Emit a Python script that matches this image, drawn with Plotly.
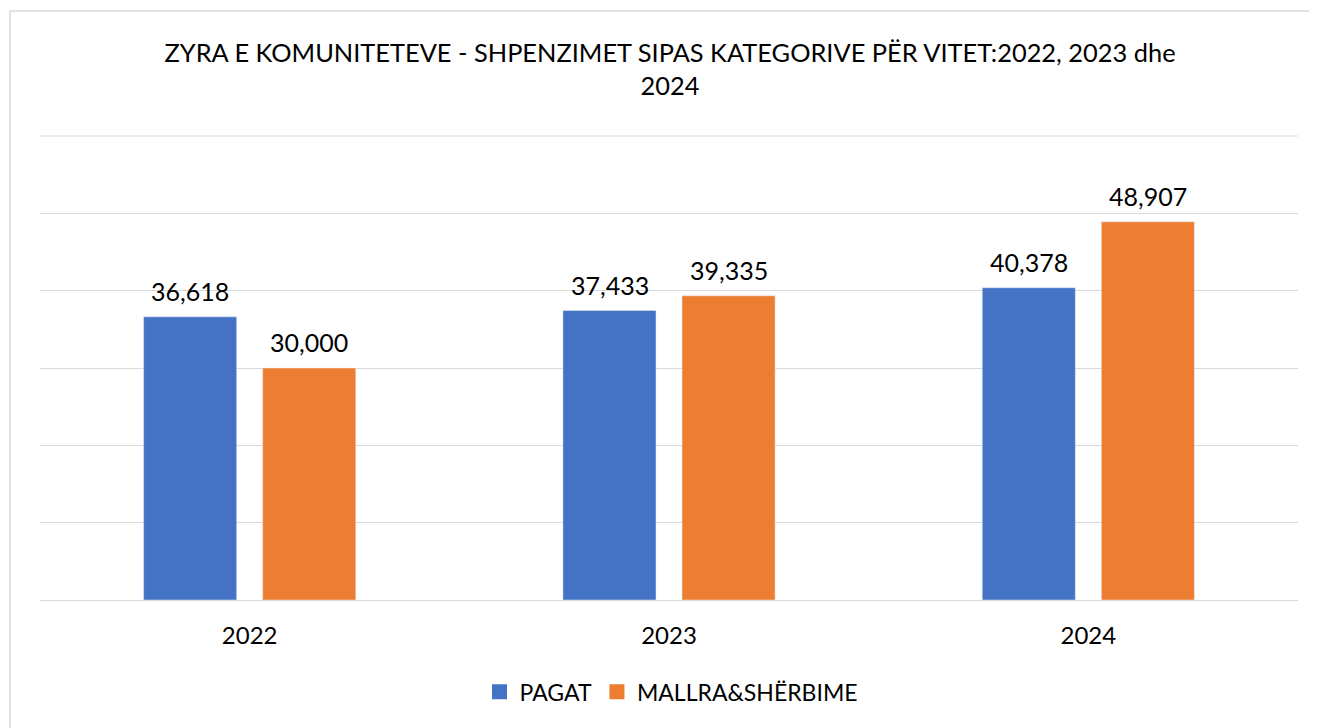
import plotly.graph_objects as go

# Të dhënat
vitet = ["2022", "2023", "2024"]
pagat = [36618, 37433, 40378]
mallra_sherbime = [30000, 39335, 48907]

FONT = "Lato"
BLU = "#4472C4"
PORTOKALLI = "#ED7D31"

seri = [("PAGAT", pagat, BLU, -59.5),
        ("MALLRA&SHËRBIME", mallra_sherbime, PORTOKALLI, 59.5)]

fig = go.Figure()

# shtyllat (pa legjendë, legjenda vjen nga shenjat katrore më poshtë)
for emri, vlerat, ngjyra, _ in seri:
    fig.add_trace(go.Bar(
        name=emri,
        x=vitet,
        y=vlerat,
        marker_color=ngjyra,
        showlegend=False,
    ))

# etiketat e vlerave mbi shtylla (x = indeksi i kategorisë)
for emri, vlerat, ngjyra, zhvendosje in seri:
    for i, v in enumerate(vlerat):
        fig.add_annotation(
            x=i, y=v,
            text=f"{v:,}",
            showarrow=False,
            xshift=zhvendosje,
            yanchor="bottom",
            yshift=9,
            font=dict(size=25, color="#000000", family=FONT),
        )

# legjenda me katrorë
for emri, _, ngjyra, _ in seri:
    fig.add_trace(go.Scatter(
        name=emri,
        x=[None],
        y=[None],
        mode="markers",
        marker=dict(symbol="square", size=15, color=ngjyra),
        showlegend=True,
    ))

# faqja ka 8px hapësirë në trup, prandaj kufijtë zhvendosen
fig.update_layout(
    width=1317,
    height=728,
    margin=dict(l=32, r=27, t=128, b=136),
    paper_bgcolor="white",
    plot_bgcolor="white",
    font=dict(family=FONT, color="#000000"),
    title=dict(
        text="ZYRA E KOMUNITETEVE - SHPENZIMET SIPAS KATEGORIVE PËR VITET:2022, 2023 dhe<br>2024",
        x=0.5027,
        xanchor="center",
        y=0.926,
        yanchor="top",
        font=dict(size=25.4, family=FONT, color="#000000"),
    ),
    barmode="group",
    bargap=0.432,
    bargroupgap=0.2185,
    showlegend=True,
    legend=dict(
        orientation="h",
        x=0.502,
        xanchor="center",
        y=-0.198,
        yanchor="middle",
        font=dict(size=23, family=FONT),
        itemwidth=30,
        traceorder="normal",
    ),
    xaxis=dict(
        type="category",
        range=[-0.5, len(vitet) - 0.5],
        showgrid=False,
        showline=True,
        linecolor="#d9d9d9",
        linewidth=1,
        ticks="outside",
        ticklen=14,
        tickcolor="white",
        tickfont=dict(size=24, family=FONT),
    ),
    yaxis=dict(
        range=[0, 60000],
        dtick=10000,
        showgrid=True,
        gridcolor="#d9d9d9",
        gridwidth=1,
        showticklabels=False,
        zeroline=False,
        fixedrange=True,
    ),
    shapes=[
        dict(
            type="rect",
            xref="paper", yref="paper",
            x0=-0.0238, x1=1.0143,
            y0=-0.35, y1=1.2694,
            line=dict(color="#d9d9d9", width=1.5),
            layer="below",
        ),
        dict(
            type="line",
            xref="paper", yref="paper",
            x0=0, x1=1, y0=1, y1=1,
            line=dict(color="#d9d9d9", width=1),
            layer="below",
        ),
    ],
)

fig.write_html("out.html")
